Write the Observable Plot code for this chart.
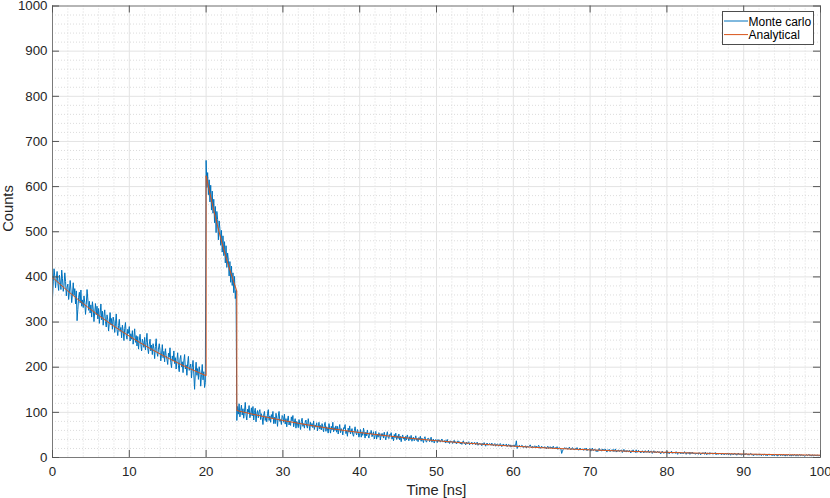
<!DOCTYPE html>
<html><head><meta charset="utf-8">
<script src="https://cdn.jsdelivr.net/npm/d3@7"></script>
<script src="https://cdn.jsdelivr.net/npm/@observablehq/plot@0.6"></script>
<style>
body{margin:0;background:#fff;}
#wrap{position:relative;width:830px;height:498px;font-family:"Liberation Sans",Arial,Helvetica,sans-serif;}
#legend{position:absolute;left:722px;top:11px;width:90px;height:32px;border:1px solid #4d4d4d;background:#fff;font-size:12px;color:#000;}
#legend svg{position:absolute;left:0;top:0;}
</style>
</head><body><div id="wrap"></div>
<script>
// Monte carlo counts, one value every 0.1 ns from 0 to 100 ns (10 values per row = 1 ns)
const mcStep = 0.1;
const monteCarlo = [
352,389,418,401,376,397,412,385,370,404,
391,372,415,396,368,381,409,390,358,377,
384,350,366,392,371,343,362,387,359,374,
340,369,303,328,355,366,342,371,335,349,
332,358,344,317,339,372,351,326,346,320,
338,311,345,329,301,322,341,316,335,307,
330,297,318,340,305,324,293,313,327,301,
289,316,305,280,298,321,294,308,284,311,
302,277,296,318,283,270,292,306,279,288,
265,293,281,259,286,299,271,262,284,275,
290,258,274,262,281,251,266,285,255,270,
247,268,240,259,273,251,236,262,255,244,
266,238,255,275,242,230,251,262,236,249,
228,252,241,219,246,263,233,224,240,252,
237,214,229,250,221,235,212,241,226,218,
206,231,222,243,210,199,225,214,236,208,
221,196,215,232,203,190,218,226,201,212,
188,214,228,196,205,182,209,224,193,200,
207,176,199,215,185,151,190,211,182,197,
173,201,189,158,184,206,172,190,155,166,
658,598,631,582,615,566,603,548,590,541,
572,520,556,498,545,527,482,524,507,470,
503,455,491,447,478,431,469,421,453,437,
402,434,388,424,381,409,365,401,352,370,
82,113,96,119,90,104,116,94,108,87,
103,122,94,83,107,100,115,88,96,110,
92,113,83,100,109,79,97,104,88,101,
106,84,97,89,73,94,102,82,91,79,
98,106,82,92,78,95,87,102,75,89,
75,98,87,69,92,102,80,84,73,93,
90,78,96,74,86,68,83,92,72,80,
71,90,81,93,68,78,86,65,80,75,
66,84,74,62,80,87,69,75,65,78,
83,69,65,86,74,60,78,69,75,66,
81,62,72,68,77,59,69,78,63,71,
61,75,66,57,72,78,58,68,63,54,
75,64,54,69,61,78,57,66,60,70,
56,69,52,63,73,55,64,60,50,66,
64,73,53,59,47,65,56,70,52,58,
64,51,47,59,68,55,50,62,56,45,
52,62,45,57,49,65,54,43,56,48,
61,49,43,55,52,60,46,50,57,41,
48,58,41,52,45,55,50,39,53,47,
53,43,56,46,39,50,57,45,42,51,
49,55,41,46,37,51,44,54,40,48,
42,52,39,47,35,45,50,41,44,37,
47,39,50,43,37,46,40,49,36,43,
45,37,41,48,38,42,35,44,40,47,
36,43,39,33,42,46,37,34,40,43,
42,35,39,45,34,38,41,32,37,40,
38,33,40,36,39,34,37,41,35,36,
34,38,32,36,40,33,35,31,37,34,
36,31,34,38,32,35,30,33,37,32,
35,30,33,29,34,37,31,32,28,34,
30,33,35,28,32,30,34,29,31,33,
33,28,31,34,27,30,32,29,31,26,
31,28,33,29,25,30,32,27,29,31,
30,27,32,28,26,29,31,25,28,30,
29,25,27,31,28,24,27,30,26,28,
26,30,24,27,29,25,28,23,27,26,
25,28,24,27,37,20,26,23,27,24,
24,27,26,22,25,23,26,21,25,24,
23,26,28,24,21,25,22,24,26,22,
25,22,24,27,23,20,23,25,21,23,
21,24,22,19,23,25,20,22,24,21,
23,20,25,21,19,22,20,24,18,21,
22,20,19,9,14,18,20,22,19,21,
21,18,20,23,19,17,20,22,18,19,
17,20,19,22,18,16,19,21,17,18,
19,17,16,20,18,21,15,18,17,19,
20,14,18,21,15,17,19,16,13,17,
13,18,20,15,17,14,19,16,18,15,
19,14,12,17,16,18,13,15,17,14,
18,13,16,19,12,15,14,17,13,16,
15,17,11,14,18,13,15,12,16,14,
12,16,14,10,15,13,17,12,14,11,
17,11,13,16,12,14,10,13,15,12,
10,14,15,11,13,12,16,10,12,14,
14,9,12,15,11,13,10,12,14,11,
13,10,8,12,14,11,9,12,10,13,
9,13,11,8,12,10,14,9,11,10,
12,9,13,10,7,11,10,12,8,10,
11,8,10,13,9,7,11,10,9,12,
7,11,9,12,8,10,9,7,10,8,
10,7,11,9,6,10,8,11,9,7,
12,8,6,10,9,7,11,8,9,10,
7,10,8,11,6,9,8,7,10,8,
9,6,10,7,8,6,9,8,7,10,
6,9,8,5,9,7,8,6,10,7,
8,5,7,10,6,8,7,5,8,6,
5,8,6,9,7,6,8,5,7,9,
8,5,7,4,7,6,8,5,6,7,
5,8,6,4,7,6,5,8,6,4,
7,4,6,8,5,7,5,6,4,7,
4,7,5,6,3,6,5,7,4,6,
6,4,7,5,3,6,5,4,7,5,
4,6,3,6,5,4,7,5,3,6,
6,3,5,7,4,5,6,4,5,3,
3,5,6,4,5,7,4,5,3,6,
5,3,6,4,5,4,6,3,5,4,
3
];

// Analytical curve
const analyticalTime = [
0,1,2,3,4,5,6,7,8,9,10,11,12,13,14,15,16,17,18,19,20,
20,20.5,21,21.5,22,22.5,23,23.5,24,
24,26,28,30,32,34,36,38,40,42,44,46,48,50,52,54,56,58,60,62,64,66,68,70,72,74,76,78,80,82,84,86,88,90,92,94,96,98,100
];
const analyticalCounts = [
399,383.5,368.7,354.4,340.7,327.5,314.8,302.6,290.9,279.6,268.8,258.4,248.4,238.7,229.5,220.6,212.1,203.8,195.9,188.4,181.1,
624,584.3,547.0,512.2,479.6,449.0,420.4,393.7,368.6,
104,96.1,88.8,82.0,75.8,70.0,64.7,59.8,55.3,51.1,47.2,43.6,40.3,37.2,34.4,31.8,29.4,27.1,25.1,23.2,21.4,19.8,18.3,16.9,15.6,14.4,13.3,12.3,11.4,10.5,9.7,9.0,8.3,7.7,7.1,6.5,6.0,5.6,5.2
];

const seriesNames = ["Monte carlo", "Analytical"];
const seriesColors = ["#0072BD", "#D95319"];
const xTicks = [0,10,20,30,40,50,60,70,80,90,100];
const yTicks = [0,100,200,300,400,500,600,700,800,900,1000];
const xLabel = "Time [ns]";
const yLabel = "Counts";

const xMinor = d3.range(0, 100.001, 2).filter(v => v % 10 !== 0);
const yMinor = d3.range(0, 1000.001, 20).filter(v => v % 100 !== 0);

const mcData = monteCarlo.map((c, i) => ({t: +(i * mcStep).toFixed(2), c}));
const anData = analyticalTime.map((t, i) => ({t, c: analyticalCounts[i]}));

const tickCol = "#555";
const chart = Plot.plot({
  width: 830, height: 498,
  marginLeft: 52, marginRight: 10, marginTop: 5.5, marginBottom: 41,
  x: {domain: [0, 100]},
  y: {domain: [0, 1000]},
  style: {fontFamily: '"Liberation Sans", Arial, Helvetica, sans-serif', fontSize: "13.3px", color: "#262626", background: "white"},
  marks: [
    Plot.ruleX(xMinor, {stroke: "#dcdcdc", strokeDasharray: "1,2"}),
    Plot.ruleY(yMinor, {stroke: "#dcdcdc", strokeDasharray: "1,2"}),
    Plot.ruleX(xTicks, {stroke: "#e3e3e3"}),
    Plot.ruleY(yTicks, {stroke: "#e3e3e3"}),
    Plot.line(mcData, {x: "t", y: "c", stroke: seriesColors[0], strokeWidth: 1}),
    Plot.line(anData, {x: "t", y: "c", stroke: seriesColors[1], strokeWidth: 1}),
    Plot.frame({stroke: "#7a7a7a"}),
    Plot.ruleX(xTicks, {y1: 0, y2: 15.5, stroke: tickCol}),
    Plot.ruleX(xTicks, {y1: 1000, y2: 984.5, stroke: tickCol}),
    Plot.ruleY(yTicks, {x1: 0, x2: 0.91, stroke: tickCol}),
    Plot.ruleY(yTicks, {x1: 100, x2: 99.09, stroke: tickCol}),
    Plot.axisX({ticks: xTicks, tickSize: 0, tickPadding: 9, label: null, tickFormat: d => String(d)}),
    Plot.axisY({ticks: yTicks, tickSize: 0, tickPadding: 5, label: null, tickFormat: d => String(d)}),
    Plot.text([xLabel], {frameAnchor: "bottom", dy: 33, text: d => d, fontSize: 14.7, lineAnchor: "middle", fill: "#262626"}),
    Plot.text([yLabel], {frameAnchor: "left", dx: -44, rotate: -90, text: d => d, fontSize: 14.7, lineAnchor: "middle", fill: "#262626"})
  ]
});
const wrap = document.getElementById("wrap");
wrap.appendChild(chart);

const legend = document.createElement("div");
legend.id = "legend";
const ns = "http://www.w3.org/2000/svg";
const lsvg = document.createElementNS(ns, "svg");
lsvg.setAttribute("width", "90");
lsvg.setAttribute("height", "32");
seriesNames.forEach((name, i) => {
  const yy = 9 + i * 13.6;
  const ln = document.createElementNS(ns, "line");
  ln.setAttribute("x1", "1"); ln.setAttribute("x2", "25");
  ln.setAttribute("y1", yy); ln.setAttribute("y2", yy);
  ln.setAttribute("stroke", seriesColors[i]);
  ln.setAttribute("stroke-width", "1");
  lsvg.appendChild(ln);
  const tx = document.createElementNS(ns, "text");
  tx.setAttribute("x", "25.5");
  tx.setAttribute("y", yy + 4.5);
  tx.setAttribute("font-size", "12");
  tx.setAttribute("fill", "#000");
  tx.setAttribute("font-family", '"Liberation Sans", Arial, sans-serif');
  tx.textContent = name;
  lsvg.appendChild(tx);
});
legend.appendChild(lsvg);
wrap.appendChild(legend);
</script>
</body></html>
